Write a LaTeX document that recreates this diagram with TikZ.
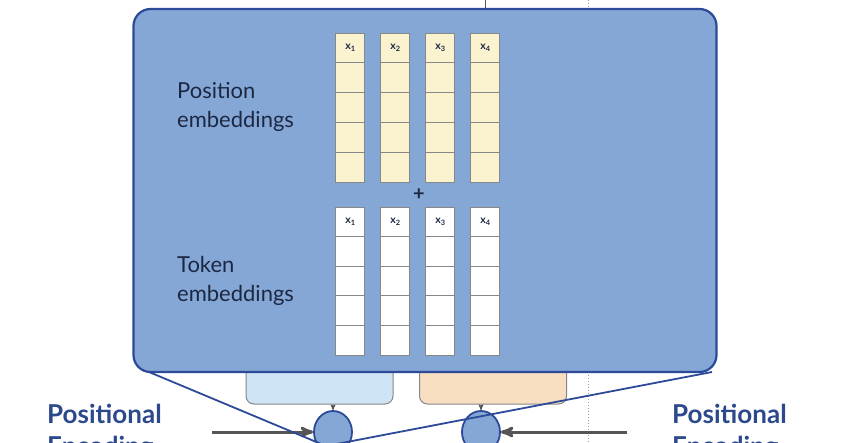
\documentclass[tikz,border=0pt]{standalone}
\usepackage{fontspec}
\setmainfont{Lato}
\usetikzlibrary{arrows,shapes.geometric}

\definecolor{panelblue}{RGB}{133,167,214}
\definecolor{paneledge}{RGB}{44,74,152}
\definecolor{cellyellow}{RGB}{251,242,208}
\definecolor{cellgray}{RGB}{135,135,135}
\definecolor{labelnavy}{RGB}{28,40,66}
\definecolor{titleblue}{RGB}{44,73,140}
\definecolor{encblue}{RGB}{207,228,244}
\definecolor{decpeach}{RGB}{248,223,193}
\definecolor{arrowgray}{RGB}{85,85,85}

\begin{document}
\begin{tikzpicture}[x=1pt,y=-1pt,>=stealth',
  panel/.style={draw=paneledge,line width=2.2pt,fill=panelblue,rounded corners=17pt,
    minimum width=583pt,minimum height=363pt,inner sep=0pt},
  stackbox/.style={draw=cellgray,line width=1pt,rounded corners=8pt,
    minimum width=147pt,minimum height=64pt,inner sep=0pt},
  poscell/.style={draw=cellgray,line width=0.8pt,fill=cellyellow,
    minimum width=29pt,minimum height=29.8pt,inner sep=0pt},
  tokcell/.style={poscell,fill=white,minimum height=29.6pt},
  xlabel/.style={font=\fontsize{10.5}{10.5}\selectfont\bfseries,text=labelnavy,inner sep=0pt},
  embtext/.style={font=\fontsize{22}{29}\selectfont,text=labelnavy,align=left,inner sep=0pt},
  enctext/.style={font=\fontsize{26}{32}\selectfont\bfseries,text=titleblue,align=left,inner sep=0pt},
  adder/.style={ellipse,draw=paneledge,line width=1.8pt,fill=panelblue,
    minimum width=38pt,minimum height=42pt,inner sep=0pt},
  feed/.style={->,draw=arrowgray,line width=3pt},
  zoomline/.style={draw=paneledge,line width=1.8pt}]

  \useasboundingbox (0,0) rectangle (854,442);
  \clip (0,0) rectangle (854,442);

  % lines coming in from above
  \coordinate (topA) at (485,0);
  \coordinate (topB) at (588,0);
  \coordinate (botB) at (588,442);
  \draw[cellgray!80,line width=1pt,dotted] (topB) -- (botB);
  \draw[arrowgray,line width=1pt] (topA) -- (485,10);

  % encoder / decoder stacks behind the panel
  \node[stackbox,fill=encblue] (enc) at (319.5,372) {};
  \node[stackbox,fill=decpeach] (dec) at (493,372) {};

  % zoomed panel
  \node[panel] (panel) at (425,190.5) {};

  % embedding columns
  \foreach \c/\xc in {1/349.5,2/394.5,3/439.5,4/484.5}{
    \foreach \r in {0,...,4}{
      \node[poscell] (p\c\r) at (\xc,{47.9+\r*29.8}) {};
      \node[tokcell] (t\c\r) at (\xc,{221.8+\r*29.6}) {};
    }
    \node[xlabel] at ([xshift=1pt]p\c0) {x\textsubscript{\c}};
    \node[xlabel] at ([xshift=1pt]t\c0) {x\textsubscript{\c}};
  }
  \node[font=\fontsize{20}{20}\selectfont\bfseries,text=labelnavy,inner sep=0pt] (plus) at (419,195) {+};

  \node[embtext,anchor=base west] (postext) at (177,127) {Position\\embeddings};
  \node[embtext,anchor=base west] (toktext) at (177,301) {Token\\embeddings};

  % adders with positional encoding
  \node[adder] (addL) at (333,432) {};
  \node[adder] (addR) at (481,432) {};
  \draw[arrowgray,line width=1pt,->] (addL |- enc.south) -- (addL.north);
  \draw[arrowgray,line width=1pt,->] (addR |- dec.south) -- (addR.north);

  \coordinate (peL) at (212,432);
  \coordinate (peR) at (627,432);
  \draw[feed] (peL) -- (addL.west);
  \draw[feed] (peR) -- (addR.east);

  \node[enctext,anchor=base west] (peLtext) at (47,455) {Positional\\Encoding};
  \node[enctext,anchor=base west] (peRtext) at (672,455) {Positional\\Encoding};

  % zoom lines
  \coordinate (zoomL) at (149,372);
  \coordinate (zoomR) at (712,372);
  \coordinate (zoomTip) at (326,446);
  \draw[zoomline] (zoomL) -- (zoomTip) -- (zoomR);
\end{tikzpicture}
\end{document}
